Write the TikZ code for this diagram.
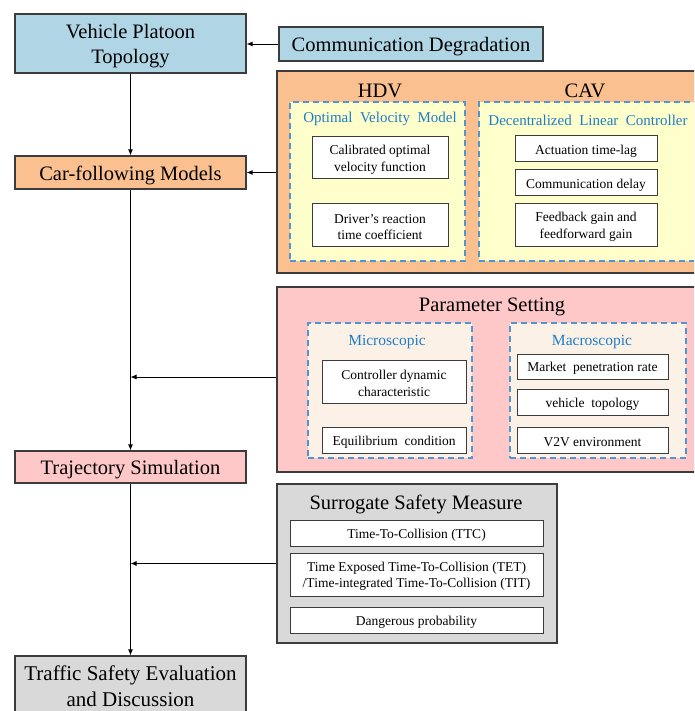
\documentclass[tikz,border=0pt]{standalone}
\usepackage{fontspec}
\setmainfont{Liberation Serif}
\usetikzlibrary{arrows.meta}
\definecolor{cblue}{RGB}{176,214,230}
\definecolor{corange}{RGB}{250,192,144}
\definecolor{cyellow}{RGB}{255,255,204}
\definecolor{cpink}{RGB}{255,200,200}
\definecolor{ccream}{RGB}{252,241,231}
\definecolor{cgrey}{RGB}{217,217,217}
\definecolor{cdash}{RGB}{80,150,210}
\definecolor{ctext}{RGB}{30,125,200}
\definecolor{boxline}{RGB}{60,60,60}
\begin{document}
\begin{tikzpicture}[x=1pt,y=-1pt,
  box/.style={draw=boxline, line width=1.2pt, align=center, inner sep=0pt},
  mainbox/.style={box},
  mtxt/.style={label={[inner sep=0pt, align=center, yshift=-3pt, font=\fontsize{20.5}{25}\selectfont]center:{#1}}},
  btxt/.style={label={[inner sep=0pt, align=center, yshift=0.5pt, font=\fontsize{21}{26}\selectfont]center:{#1}}},
  smallbox/.style={draw=boxline, line width=1pt, fill=white, inner sep=0pt},
  stxt/.style={label={[inner sep=0pt, align=center, yshift=-2pt, font=\fontsize{13.5}{16.5}\selectfont]center:{#1}}},
  dbox/.style={draw=cdash, line width=1.4pt, dash pattern=on 6pt off 4pt, inner sep=0pt},
  title/.style={inner sep=0pt, font=\fontsize{20.5}{25}\selectfont},
  subtitle/.style={inner sep=0pt, text=ctext, font=\fontsize{15}{18}\selectfont},
  arr/.style={draw=black, line width=0.9pt, -{Latex[length=6pt,width=5pt]}}
]
\useasboundingbox (0,0) rectangle (694,711);
\clip (0,0) rectangle (694,711);

% left column
\node[mainbox, fill=cblue, minimum width=231pt, minimum height=59pt, mtxt={Vehicle Platoon\\Topology}] (vpt) at (130.5,43.5) {};
\node[mainbox, fill=cblue, minimum width=264pt, minimum height=34pt, mtxt={Communication Degradation}] (comm) at (411,44) {};
\node[mainbox, fill=corange, minimum width=231pt, minimum height=33pt, mtxt={Car-following Models}] (cfm) at (130.5,172.5) {};
\node[mainbox, fill=cpink, minimum width=231pt, minimum height=32pt, mtxt={Trajectory Simulation}] (traj) at (130.5,467) {};
\node[mainbox, fill=cgrey, minimum width=231pt, minimum height=62pt, btxt={Traffic Safety Evaluation\\and Discussion}] (tse) at (130.5,687) {};

% car-following models panel
\node[box, fill=corange, minimum width=443pt, minimum height=202pt] (orange) at (498.5,172) {};
\node[title] (hdv) at (380,91) {HDV};
\node[title] (cav) at (585,91) {CAV};
\node[dbox, fill=cyellow, minimum width=175pt, minimum height=159pt] (hdvbox) at (377.5,181.5) {};
\node[dbox, fill=cyellow, minimum width=241pt, minimum height=159pt] (cavbox) at (599.5,181.5) {};
\node[subtitle] (ovm) at (380,119) {Optimal\ \ Velocity\ \ Model};
\node[subtitle] (dlc) at (588,120) {Decentralized\ \ Linear\ \ Controller};
\node[smallbox, minimum width=136pt, minimum height=42pt, stxt={Calibrated optimal\\velocity function}] (calib) at (380,158) {};
\node[smallbox, minimum width=136pt, minimum height=42pt, stxt={Driver's reaction\\time coefficient}] (react) at (380,225) {};
\node[smallbox, minimum width=142pt, minimum height=26pt, stxt={Actuation time-lag}] (act) at (586,149) {};
\node[smallbox, minimum width=142pt, minimum height=26pt, stxt={Communication delay}] (delay) at (586,183) {};
\node[smallbox, minimum width=142pt, minimum height=42pt, stxt={Feedback gain and\\feedforward gain}] (gain) at (586,225) {};

% parameter setting panel
\node[box, fill=cpink, minimum width=443pt, minimum height=185pt] (pink) at (498.5,379.5) {};
\node[title] (ps) at (492,307) {Parameter Setting};
\node[dbox, fill=ccream, minimum width=164pt, minimum height=135pt] (micro) at (390,390.5) {};
\node[dbox, fill=ccream, minimum width=176pt, minimum height=135pt] (macro) at (598,390.5) {};
\node[subtitle, font=\fontsize{15.5}{18}\selectfont] (microt) at (387,342) {Microscopic};
\node[subtitle, font=\fontsize{15.5}{18}\selectfont] (macrot) at (592,342) {Macroscopic};
\node[smallbox, minimum width=144pt, minimum height=43pt, stxt={Controller dynamic\\characteristic}] (ctrl) at (394,381.5) {};
\node[smallbox, minimum width=144pt, minimum height=26pt, stxt={Equilibrium\ \ condition}] (equi) at (394,440) {};
\node[smallbox, minimum width=151pt, minimum height=25pt, stxt={Market\ \ penetration rate}] (market) at (592.5,366.5) {};
\node[smallbox, minimum width=151pt, minimum height=26pt, stxt={vehicle\ \ topology}] (vtopo) at (592.5,402) {};
\node[smallbox, minimum width=151pt, minimum height=26pt, stxt={V2V environment}] (v2v) at (592.5,440) {};

% surrogate safety panel
\node[box, fill=cgrey, minimum width=280pt, minimum height=159pt] (grey) at (417,563.5) {};
\node[title] (ssm) at (416,504) {Surrogate Safety Measure};
\node[smallbox, minimum width=253pt, minimum height=26pt, stxt={Time-To-Collision (TTC)}] (ttc) at (416.5,533) {};
\node[smallbox, minimum width=253pt, minimum height=43pt, stxt={Time Exposed Time-To-Collision (TET)\\/Time-integrated Time-To-Collision (TIT)}] (tet) at (416.5,574.5) {};
\node[smallbox, minimum width=253pt, minimum height=26pt, stxt={Dangerous probability}] (dang) at (416.5,620) {};

% connectors
\coordinate (pj) at (130.5,377);
\draw[arr] (comm.west) -- (vpt.east |- comm.west);
\draw[arr] (vpt.south) -- (cfm.north);
\draw[arr] (orange.west |- cfm.east) -- (cfm.east);
\draw[arr] (cfm.south) -- (traj.north);
\draw[arr] (pink.west |- pj) -- (pj);
\draw[arr] (traj.south) -- (tse.north);
\draw[arr] (grey.west) -- (grey.west -| traj.south);
\end{tikzpicture}
\end{document}
